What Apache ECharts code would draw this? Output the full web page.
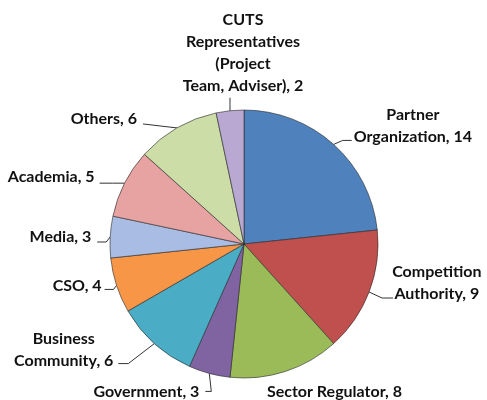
<!DOCTYPE html>
<html><head><meta charset="utf-8">
<script src="https://cdn.jsdelivr.net/npm/echarts@6/dist/echarts.min.js"></script>
<style>html,body{margin:0;padding:0;background:#fff}#c{width:487px;height:400px}</style>
</head><body><div id="c"></div>
<script>
const categories = ['Partner Organization','Competition Authority','Sector Regulator','Government','Business Community','CSO','Media','Academia','Others','CUTS Representatives (Project Team, Adviser)'];
const values = [14,9,8,3,6,4,3,5,6,2];
const labelBreaks = [['Partner','Organization'],['Competition','Authority'],['Sector Regulator'],['Government'],['Business','Community'],['CSO'],['Media'],['Academia'],['Others'],['CUTS','Representatives','(Project','Team, Adviser)']];
const colors = ['#4F81BD','#C0504D','#9BBB59','#8064A2','#4BACC6','#F79646','#A9BCE3','#E6A3A2','#CCDDA7','#B9A9D2'];

// label-line offsets relative to the slice edge point: [elbowDx, elbowDy, endDx, endDy, textDx, textDy, align]
const labelOffsets = [
  [9,-4,18,-4,2,-15,'left'],
  [13,6,24,6,3,-15.5,'left'],
  [0,0,0,0,49,20.6,'center'],
  [2,18,-4,18,-6,0,'right'],
  [-26,20,-36,20,-5,-13.5,'right'],
  [-3,4,-12,4,-3,-4,'right'],
  [-4,5,-13,5,-6,-5,'right'],
  [-12,0,-25,0,-5,-6,'right'],
  [-17,-2,-34,-4,-6,-5,'right'],
  [0,-6,0,-13,13,-44.5,'center']
];

const chart = echarts.init(document.getElementById('c'));
const data = categories.map((n,i)=>({
  name:n,value:values[i],itemStyle:{color:colors[i]},
  labelLine:{show:i!==2}
}));
chart.setOption({
  animation:false,
  series:[{
    type:'pie',
    center:[244,244],
    radius:134,
    startAngle:90,
    clockwise:true,
    data:data,
    itemStyle:{borderColor:'rgba(40,40,40,0.6)',borderWidth:1},
    label:{
      show:true,position:'outside',overflow:'none',
      fontFamily:'Lato',fontWeight:'bold',fontSize:16,color:'#111',lineHeight:22,
      formatter:function(p){
        const lines = labelBreaks[p.dataIndex].slice();
        lines[lines.length-1] += ', ' + p.value;
        return lines.map(l=>'{c|'+l+'}').join('\n');
      },
      rich:{c:{align:'center',fontFamily:'Lato',fontWeight:'bold',fontSize:16,color:'#111',lineHeight:22}}
    },
    labelLine:{show:true,length:8,length2:14,lineStyle:{color:'#333',width:1}},
    labelLayout:function(params){
      const o = labelOffsets[params.dataIndex];
      const p0 = params.labelLinePoints ? params.labelLinePoints[0] : [params.rect.x, params.rect.y];
      const elbow=[p0[0]+o[0],p0[1]+o[1]];
      const end=[p0[0]+o[2],p0[1]+o[3]];
      return {
        x:end[0]+o[4], y:end[1]+o[5], align:o[6], verticalAlign:'middle',
        labelLinePoints:[p0,elbow,end]
      };
    }
  }]
});
</script></body></html>
